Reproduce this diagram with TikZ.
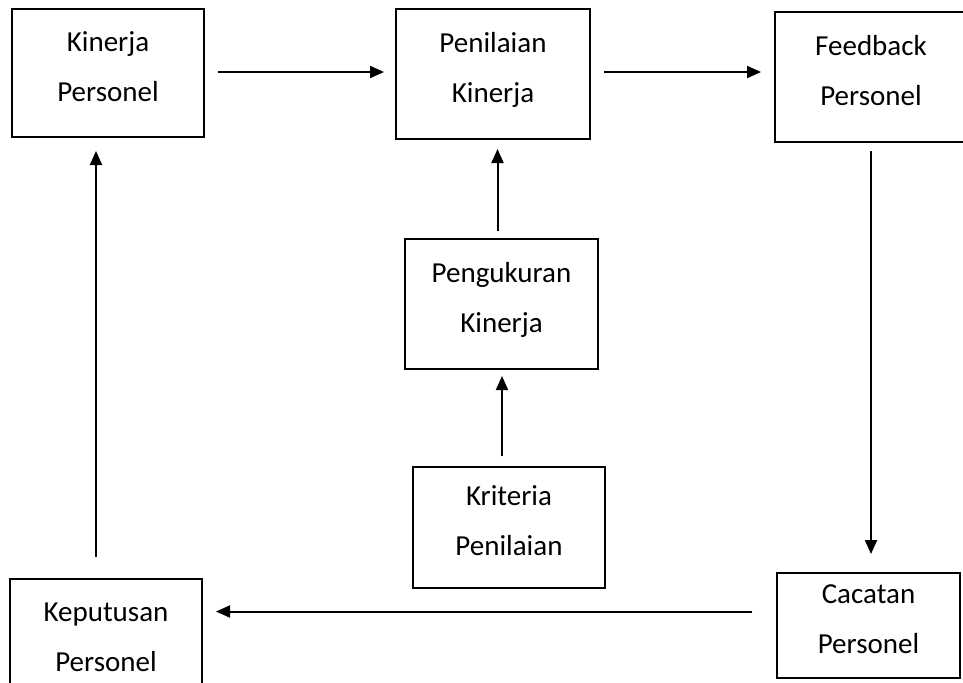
\documentclass[tikz,border=0pt]{standalone}
\usepackage{fontspec}
\setmainfont{Carlito}
\usepackage{tikz}
\usetikzlibrary{arrows.meta}

\begin{document}
\begin{tikzpicture}[x=0.5pt,y=-0.5pt,
	kotak/.style={draw,line width=1pt,rectangle,align=center,inner sep=0pt,text depth=6.5pt,
		font=\fontsize{14.5pt}{25pt}\selectfont},
	panah/.style={line width=1pt,-{Triangle[length=7pt,width=6pt]}}]
	\useasboundingbox (0,0) rectangle (963,682);

	\node (kinerja) [kotak,minimum width=96pt,minimum height=64pt] at (108,73) {Kinerja\\Personel};
	\node (penilaian) [kotak,minimum width=97pt,minimum height=65pt] at (493,74) {Penilaian\\Kinerja};
	\node (feedback) [kotak,minimum width=96pt,minimum height=65pt] at (871,77) {Feedback\\Personel};
	\node (pengukuran) [kotak,minimum width=96.5pt,minimum height=65pt] at (501.5,304) {Pengukuran\\Kinerja};
	\node (kriteria) [kotak,minimum width=96pt,minimum height=60.5pt] at (509,527.5) {Kriteria\\Penilaian};
	\node (keputusan) [kotak,minimum width=96pt,minimum height=65pt] at (106,644) {Keputusan\\Personel};
	\node (cacatan) [kotak,minimum width=91.5pt,minimum height=52.5pt] at (868.5,625.5) {Cacatan\\Personel};

	\draw[panah,shorten <=6.5pt,shorten >=5.5pt] ([shift={(0,-1)}]kinerja.east) -- ([shift={(0,-1)}]kinerja.east -| penilaian.west);
	\draw[panah,shorten <=6.5pt,shorten >=6.5pt] ([shift={(0,-2)}]penilaian.east) -- ([shift={(0,-2)}]penilaian.east -| feedback.west);
	\draw[panah,shorten <=3.5pt,shorten >=4.5pt] ([shift={(-4,0)}]pengukuran.north) -- ([shift={(-4,0)}]pengukuran.north |- penilaian.south);
	\draw[panah,shorten <=5pt,shorten >=3pt] ([shift={(-7,0)}]kriteria.north) -- ([shift={(-7,0)}]kriteria.north |- pengukuran.south);
	\draw[panah,shorten <=4pt,shorten >=9pt] (feedback.south) -- (feedback.south |- cacatan.north);
	\draw[panah,shorten <=12pt,shorten >=6.5pt] ([shift={(0,-14)}]cacatan.west) -- ([shift={(0,-14)}]cacatan.west -| keputusan.east);
	\draw[panah,shorten <=10.5pt,shorten >=6.5pt] ([shift={(-10,0)}]keputusan.north) -- ([shift={(-10,0)}]keputusan.north |- kinerja.south);
\end{tikzpicture}
\end{document}
